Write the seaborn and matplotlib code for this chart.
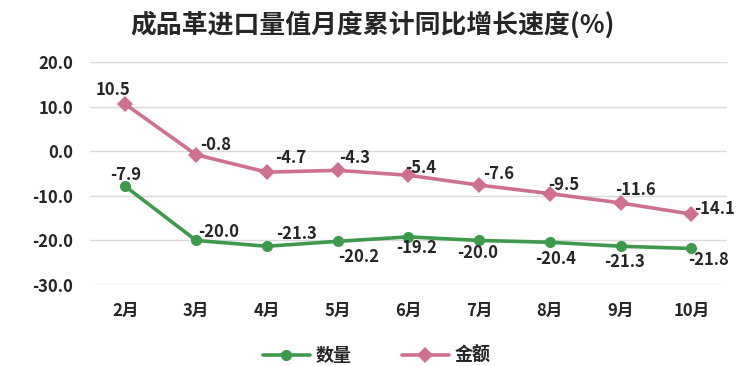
import matplotlib
matplotlib.use("Agg")
import matplotlib.pyplot as plt
import seaborn as sns
import pandas as pd

# data
months = ["2月", "3月", "4月", "5月", "6月", "7月", "8月", "9月", "10月"]
quantity = [-7.9, -20.0, -21.3, -20.2, -19.2, -20.0, -20.4, -21.3, -21.8]
amount = [10.5, -0.8, -4.7, -4.3, -5.4, -7.6, -9.5, -11.6, -14.1]
y_ticks = [20.0, 10.0, 0.0, -10.0, -20.0, -30.0]

sns.set_theme(style="white")
plt.rcParams["font.family"] = ["Noto Sans CJK SC", "DejaVu Sans"]
plt.rcParams["font.weight"] = "bold"

df = pd.DataFrame({"month": months * 2,
                   "value": quantity + amount,
                   "series": ["数量"] * len(months) + ["金额"] * len(months)})

green = "#3C9A4A"
pink = "#D0708F"

fig = plt.figure(figsize=(7.5, 3.66), dpi=100)
ax = fig.add_axes([0.12, 0.221, 0.849, 0.61])

sns.lineplot(data=df, x="month", y="value", hue="series", style="series",
             palette={"数量": green, "金额": pink},
             markers={"数量": "o", "金额": "D"}, dashes=False,
             linewidth=2.6, markersize=8, markeredgewidth=0, sort=False, ax=ax)

ax.set_ylim(-30, 20)
ax.set_xlim(-0.5, len(months) - 0.5)
ax.set_yticks(y_ticks)
ax.set_yticklabels([f"{t:.1f}" for t in y_ticks])
ax.yaxis.grid(True, color="#D9D9D9", linewidth=1)
ax.set_xlabel("")
ax.set_ylabel("")
for s in ax.spines.values():
    s.set_visible(False)
ax.tick_params(axis="both", length=0, labelsize=12, pad=12)
for lab in ax.get_xticklabels() + ax.get_yticklabels():
    lab.set_fontweight("bold")

# label offsets in points
q_off = [(0, 8), (16, 6), (21, 9), (15, -11), (6, -8), (-1, -9), (4, -12), (3, -11), (12, -8)]
a_off = [(-9, 10), (14, 7), (17, 10), (12, 9), (9, 5), (14, 8), (10, 6), (11, 9), (17, 4)]
for i, (v, o) in enumerate(zip(quantity, q_off)):
    ax.annotate(f"{v:.1f}", (i, v), xytext=o, textcoords="offset points",
                ha="center", va="center", fontsize=12, fontweight="bold")
for i, (v, o) in enumerate(zip(amount, a_off)):
    ax.annotate(f"{v:.1f}", (i, v), xytext=o, textcoords="offset points",
                ha="center", va="center", fontsize=12, fontweight="bold")

ax.legend(loc="upper center", bbox_to_anchor=(0.45, -0.2), ncol=2, frameon=False,
          prop={"size": 13, "weight": "bold"}, handlelength=2.6,
          handletextpad=0.3, columnspacing=2.8)

fig.suptitle("成品革进口量值月度累计同比增长速度(%)", x=0.497, y=0.97,
             fontsize=18.6, fontweight="bold")

fig.savefig("out.png", dpi=100)
